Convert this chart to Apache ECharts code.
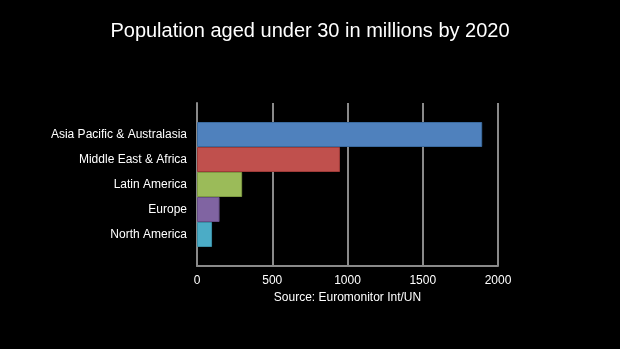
<!DOCTYPE html>
<html><head><meta charset="utf-8">
<script src="https://cdn.jsdelivr.net/npm/echarts@6/dist/echarts.min.js"></script>
<style>html,body{margin:0;padding:0;background:#000;}#c{width:620px;height:349px;}</style>
</head><body><div id="c"></div>
<script>
var categories = ['Asia Pacific & Australasia', 'Middle East & Africa', 'Latin America', 'Europe', 'North America'];
var values = [1895, 950, 300, 150, 100];
var colors = ['#4F81BD', '#C0504D', '#9BBB59', '#8064A2', '#4BACC6'];
var borders = ['#3A6A9E', '#9E3B38', '#7E9A43', '#664E86', '#3A8FA6'];
var xTicks = [0, 500, 1000, 1500, 2000];
var titleText = 'Population aged under 30 in millions by 2020';
var sourceText = 'Source: Euromonitor Int/UN';

var font = 'Liberation Sans';
var chart = echarts.init(document.getElementById('c'));
chart.setOption({
  backgroundColor: '#000',
  animation: false,
  title: {
    text: titleText, left: 'center', top: 16,
    textStyle: {color: '#fff', fontSize: 20, fontWeight: 'normal', fontFamily: font}
  },
  grid: [
    {left: 197, right: 122, top: 122, bottom: 102},
    {left: 197, right: 122, top: 103, bottom: 83}
  ],
  xAxis: [
    {gridIndex: 0, type: 'value', min: 0, max: 2000, show: false},
    {gridIndex: 1, type: 'value', min: 0, max: 2000, interval: 500,
      axisLine: {show: true, lineStyle: {color: '#8a8a8a', width: 2}},
      axisTick: {show: false},
      splitLine: {show: true, lineStyle: {color: '#8a8a8a', width: 2}},
      axisLabel: {color: '#fff', fontSize: 12, fontFamily: font, margin: 9,
        formatter: function (v) { return xTicks.indexOf(v) >= 0 ? String(v) : ''; }},
      name: sourceText, nameLocation: 'middle', nameGap: 26,
      nameTextStyle: {color: '#fff', fontSize: 12, fontFamily: font}
    }
  ],
  yAxis: [
    {gridIndex: 0, type: 'category', data: categories, inverse: true,
      axisLine: {show: false}, axisTick: {show: false}, splitLine: {show: false},
      axisLabel: {color: '#fff', fontSize: 12, fontFamily: font, margin: 10}
    },
    {gridIndex: 1, type: 'value', min: 0, max: 1,
      axisLine: {show: true, lineStyle: {color: '#8a8a8a', width: 2}},
      axisTick: {show: false}, axisLabel: {show: false}, splitLine: {show: false}
    }
  ],
  series: [{
    type: 'bar', xAxisIndex: 0, yAxisIndex: 0, barWidth: '100%', z: 5,
    data: values.map(function (v, i) {
      return {value: v, itemStyle: {color: colors[i], borderColor: borders[i], borderWidth: 1}};
    })
  }]
});
</script></body></html>
